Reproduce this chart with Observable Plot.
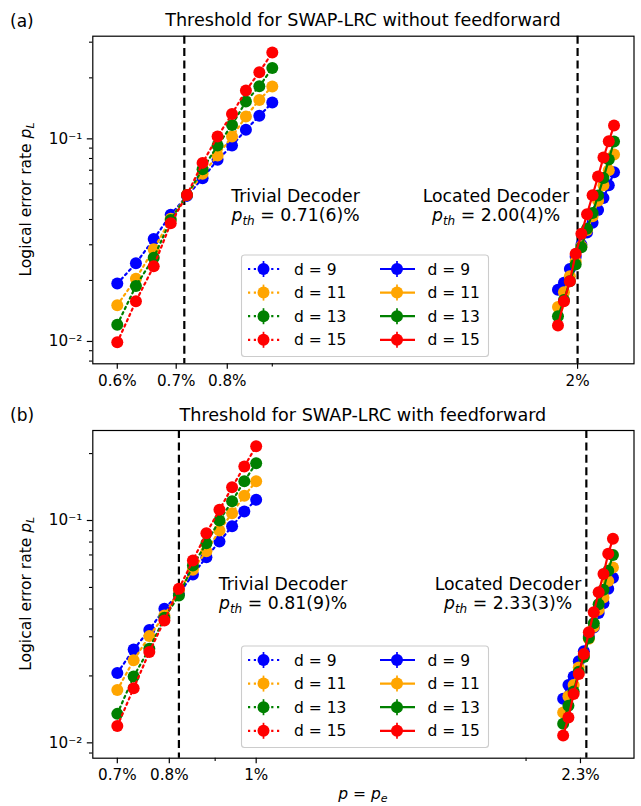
<!DOCTYPE html>
<html><head><meta charset="utf-8">
<script src="https://cdn.jsdelivr.net/npm/d3@7"></script>
<script src="https://cdn.jsdelivr.net/npm/@observablehq/plot@0.6"></script>
<style>
body{margin:0;background:#fff;}
#wrap{width:641px;height:806px;position:relative;overflow:hidden;}
</style></head><body><div id="wrap"></div>
<script>
// ---------- data ----------
const distances = [9, 11, 13, 15];
const colors = ["blue", "orange", "green", "red"];

// Panel (a): without feedforward
const pA_trivial = [0.60, 0.63, 0.66, 0.69, 0.72, 0.75, 0.78, 0.81, 0.84, 0.87, 0.90];
const aT9  = [0.0193, 0.0243, 0.0320, 0.0422, 0.0523, 0.0639, 0.0788, 0.0927, 0.1108, 0.1299, 0.1510];
const aT11 = [0.0151, 0.0204, 0.0285, 0.0403, 0.0529, 0.0672, 0.0827, 0.1026, 0.1288, 0.1557, 0.1811];
const aT13 = [0.0121, 0.0188, 0.0259, 0.0398, 0.0529, 0.0708, 0.0927, 0.1172, 0.1528, 0.1817, 0.2239];
const aT15 = [0.0099, 0.0158, 0.0235, 0.0383, 0.0529, 0.0761, 0.1026, 0.1328, 0.1731, 0.2132, 0.2666];
const pA_located = [1.90, 1.93, 1.96, 1.99, 2.02, 2.05, 2.08, 2.11, 2.14, 2.17, 2.20];
const aL9  = [0.0180, 0.0195, 0.0228, 0.0262, 0.0300, 0.0345, 0.0385, 0.0445, 0.0510, 0.0590, 0.0684];
const aL11 = [0.0148, 0.0175, 0.0210, 0.0248, 0.0295, 0.0355, 0.0415, 0.0495, 0.0590, 0.0700, 0.0837];
const aL13 = [0.0133, 0.0160, 0.0198, 0.0240, 0.0292, 0.0360, 0.0430, 0.0525, 0.0640, 0.0790, 0.0970];
const aL15 = [0.0120, 0.0158, 0.0198, 0.0271, 0.0340, 0.0425, 0.0527, 0.0652, 0.0809, 0.0973, 0.1163];
const aThresholds = [0.715, 2.0];
const aXTicks = [0.6, 0.7, 0.8, 2];
const aXTickLabels = ["0.6%", "0.7%", "0.8%", "2%"];
const aXMinor = [0.9];
const aYMinor = [0.008, 0.009, 0.02, 0.03, 0.04, 0.05, 0.06, 0.07, 0.08, 0.09, 0.2, 0.3];

// Panel (b): with feedforward
const pB_trivial = [0.70, 0.73, 0.76, 0.79, 0.82, 0.85, 0.88, 0.91, 0.94, 0.97, 1.00];
const bT9  = [0.0206, 0.0263, 0.0322, 0.0401, 0.0468, 0.0572, 0.0684, 0.0804, 0.0943, 0.1098, 0.1239];
const bT11 = [0.0173, 0.0235, 0.0302, 0.0374, 0.0484, 0.0600, 0.0728, 0.0902, 0.1079, 0.1291, 0.1503];
const bT13 = [0.0135, 0.0199, 0.0265, 0.0365, 0.0460, 0.0627, 0.0791, 0.1000, 0.1222, 0.1503, 0.1811];
const bT15 = [0.0119, 0.0176, 0.0256, 0.0355, 0.0493, 0.0661, 0.0877, 0.1117, 0.1412, 0.1749, 0.2160];
const pB_located = [2.20, 2.23, 2.26, 2.29, 2.32, 2.35, 2.38, 2.41, 2.44, 2.47, 2.50];
const bL9  = [0.0158, 0.0182, 0.0199, 0.0233, 0.0258, 0.0300, 0.0330, 0.0384, 0.0425, 0.0493, 0.0553];
const bL11 = [0.0137, 0.0162, 0.0182, 0.0218, 0.0247, 0.0294, 0.0333, 0.0397, 0.0450, 0.0535, 0.0615];
const bL13 = [0.0122, 0.0147, 0.0170, 0.0209, 0.0243, 0.0296, 0.0345, 0.0420, 0.0488, 0.0595, 0.0700];
const bL15 = [0.0108, 0.0130, 0.0166, 0.0204, 0.0251, 0.0314, 0.0387, 0.0476, 0.0575, 0.0709, 0.0827];
const bThresholds = [0.82, 2.335];
const bXTicks = [0.7, 0.8, 1, 2.3];
const bXTickLabels = ["0.7%", "0.8%", "1%", "2.3%"];
const bXMinor = [0.9, 2];
const bYMinor = [0.009, 0.02, 0.03, 0.04, 0.05, 0.06, 0.07, 0.08, 0.09, 0.2];

const yTicks = [0.01, 0.1];
const yTickLabels = ["10\u207B\u00B2", "10\u207B\u00B9"];

// ---------- helpers ----------
const FONT = "DejaVu Sans";
const NS = "http://www.w3.org/2000/svg";

function rowsFor(decoder, ps, series) {
  const out = [];
  series.forEach((vals, i) => vals.forEach((v, j) => out.push({decoder, d: distances[i], color: colors[i], p: ps[j], pL: v})));
  return out;
}

function el(parent, tag, attrs, text) {
  const e = document.createElementNS(NS, tag);
  for (const k in attrs) e.setAttribute(k, attrs[k]);
  if (text != null) e.textContent = text;
  parent.appendChild(e);
  return e;
}

function mathText(parent, x, y, size, parts, anchor) {
  const t = el(parent, "text", {x, y, "font-family": FONT, "font-size": size, "text-anchor": anchor || "middle", fill: "black"});
  for (const [s, opts] of parts) el(t, "tspan", opts || {}, s);
  return t;
}

function makePanel(cfg) {
  const rows = rowsFor("trivial", cfg.pTrivial, cfg.trivial).concat(rowsFor("located", cfg.pLocated, cfg.located));
  const xLab = new Map(cfg.xTicks.map((t, i) => [t, cfg.xTickLabels[i]]));
  const yLab = new Map(yTicks.map((t, i) => [t, yTickLabels[i]]));
  const marks = [
    Plot.ruleX(cfg.thresholds, {stroke: "black", strokeWidth: 2.2, strokeDasharray: "8,4.4"}),
  ];
  for (const decoder of ["trivial", "located"]) {
    distances.forEach((d, i) => {
      const sub = rows.filter(r => r.decoder === decoder && r.d === d);
      const lineOpts = {x: "p", y: "pL", stroke: colors[i], strokeWidth: 2.2};
      if (decoder === "trivial") lineOpts.strokeDasharray = "2.2,3.6";
      marks.push(Plot.line(sub, lineOpts));
      marks.push(Plot.dot(sub, {x: "p", y: "pL", r: 6, fill: colors[i], stroke: "none"}));
    });
  }
  marks.push(
    Plot.frame({stroke: "black", strokeWidth: 1.2}),
    Plot.axisX(cfg.xMinor, {tickSize: 3.3, strokeWidth: 1.1, tickFormat: () => "", label: null}),
    Plot.axisX(cfg.xTicks, {tickSize: 5.5, strokeWidth: 1.2, tickPadding: 6, tickFormat: d => xLab.get(d), label: null, fontSize: 15.2}),
    Plot.axisY(cfg.yMinor, {tickSize: 3.3, strokeWidth: 1.1, tickFormat: () => "", label: null}),
    Plot.axisY(yTicks, {tickSize: 5.5, strokeWidth: 1.2, tickPadding: 5, tickFormat: d => yLab.get(d), label: null, fontSize: 15.2})
  );
  const svg = Plot.plot({
    width: 641, height: cfg.height,
    marginLeft: 92.3, marginRight: 7.5, marginTop: cfg.marginTop, marginBottom: cfg.marginBottom,
    style: {fontFamily: FONT, fontSize: "15px", background: "transparent", overflow: "visible"},
    x: {type: "log", domain: cfg.xDomain},
    y: {type: "log", domain: cfg.yDomain},
    marks
  });
  svg.style.position = "absolute";
  svg.style.left = "0px";
  svg.style.top = cfg.top + "px";

  const g = el(svg, "g", {"text-anchor": "start"});
  // panel letter + title
  el(g, "text", {x: 10, y: cfg.titleY + 0.5, "font-family": FONT, "font-size": 17, "text-anchor": "start", fill: "black"}, cfg.letter);
  el(g, "text", {x: 362.9, y: cfg.titleY, "font-family": FONT, "font-size": 17.6, "text-anchor": "middle", fill: "black"}, cfg.title);
  // y label
  const yl = mathText(g, 0, 0, 15.5, [["Logical error rate "], ["p", {"font-style": "italic"}], ["L", {"font-style": "italic", "font-size": 11, dy: 3}]]);
  yl.setAttribute("transform", `translate(31,${cfg.yLabelY}) rotate(-90)`);
  // annotations
  for (const a of cfg.annotations) {
    el(g, "text", {x: a.x, y: a.y, "font-family": FONT, "font-size": 17.3, "text-anchor": "middle", fill: "black"}, a.name);
    mathText(g, a.x, a.y + 19, 17.3, [["p", {"font-style": "italic"}], ["th", {"font-style": "italic", "font-size": 12, dy: 4}], [" = " + a.value, {dy: -4}]]);
  }
  // legend
  const L = cfg.legend;
  el(g, "rect", {x: L.x, y: L.y, width: 247, height: 101.5, rx: 3, fill: "white", "fill-opacity": 0.85, stroke: "#cccccc", "stroke-width": 1.1});
  distances.forEach((d, i) => {
    const cy = L.y + 14 + i * 23.6;
    [[L.x + 6.5, L.x + 38.5, L.x + 22, L.x + 52.5, "2.2,3.6"], [L.x + 138.5, L.x + 173.5, L.x + 155.5, L.x + 186, null]].forEach(([x1, x2, mx, tx, dash]) => {
      const ln = el(g, "line", {x1, x2, y1: cy, y2: cy, stroke: colors[i], "stroke-width": 2.2});
      if (dash) ln.setAttribute("stroke-dasharray", dash);
      el(g, "line", {x1: mx, x2: mx, y1: cy - 8, y2: cy + 8, stroke: colors[i], "stroke-width": 1.7});
      el(g, "circle", {cx: mx, cy, r: 6, fill: colors[i]});
      el(g, "text", {x: tx, y: cy + 5.6, "font-family": FONT, "font-size": 15.5, "text-anchor": "start", fill: "black"}, "d = " + d);
    });
  });
  if (cfg.xLabel) {
    mathText(g, 362.9, cfg.xLabelY, 15.5, [["p", {"font-style": "italic"}], [" = "], ["p", {"font-style": "italic"}], ["e", {"font-style": "italic", "font-size": 11, dy: 3}]]);
  }
  return svg;
}

const wrap = document.getElementById("wrap");
wrap.appendChild(makePanel({
  top: 0, height: 400, marginTop: 35.7, marginBottom: 36.7,
  xDomain: [0.5628, 2.318], yDomain: [0.007757, 0.3211],
  pTrivial: pA_trivial, trivial: [aT9, aT11, aT13, aT15],
  pLocated: pA_located, located: [aL9, aL11, aL13, aL15],
  thresholds: aThresholds, xTicks: aXTicks, xTickLabels: aXTickLabels, xMinor: aXMinor, yMinor: aYMinor,
  letter: "(a)", title: "Threshold for SWAP-LRC without feedforward", titleY: 26.4, yLabelY: 199.5,
  annotations: [{x: 295.5, y: 201.5, name: "Trivial Decoder", value: "0.71(6)%"}, {x: 496, y: 201.5, name: "Located Decoder", value: "2.00(4)%"}],
  legend: {x: 241.5, y: 255}
}));
wrap.appendChild(makePanel({
  top: 400, height: 406, marginTop: 30, marginBottom: 48.3,
  xDomain: [0.6573, 2.639], yDomain: [0.00853, 0.254],
  pTrivial: pB_trivial, trivial: [bT9, bT11, bT13, bT15],
  pLocated: pB_located, located: [bL9, bL11, bL13, bL15],
  thresholds: bThresholds, xTicks: bXTicks, xTickLabels: bXTickLabels, xMinor: bXMinor, yMinor: bYMinor,
  letter: "(b)", title: "Threshold for SWAP-LRC with feedforward", titleY: 20.7, yLabelY: 193.8,
  annotations: [{x: 283, y: 189.5, name: "Trivial Decoder", value: "0.81(9)%"}, {x: 508, y: 189.5, name: "Located Decoder", value: "2.33(3)%"}],
  legend: {x: 241.5, y: 246},
  xLabel: true, xLabelY: 399
}));
</script></body></html>
